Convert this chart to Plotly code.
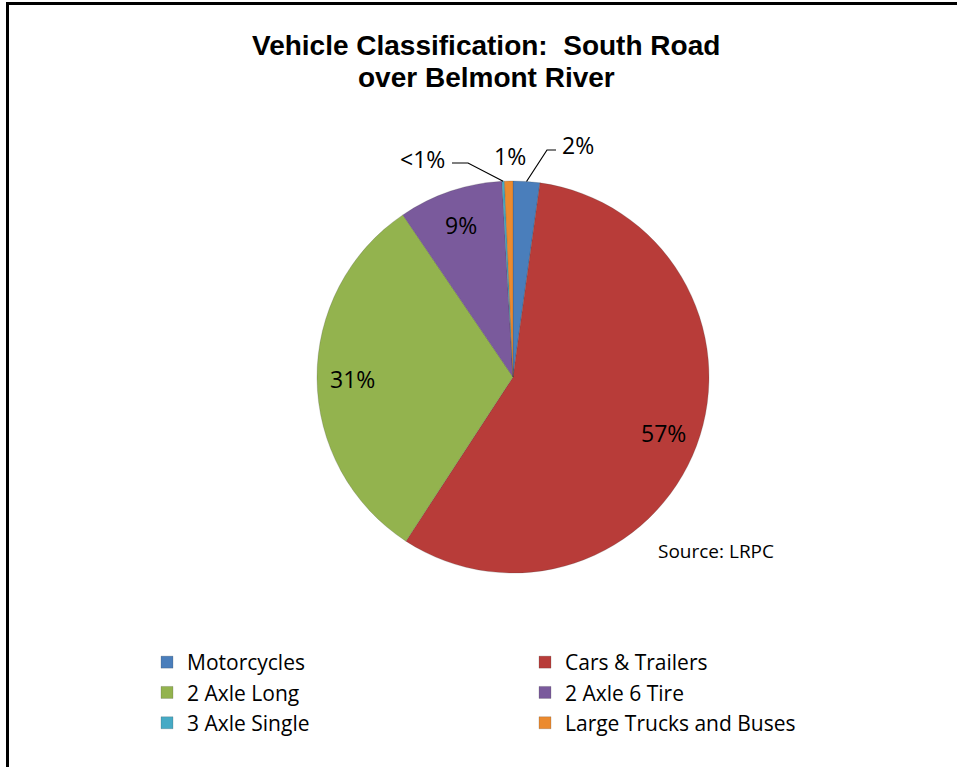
import math
import plotly.graph_objects as go

# Vehicle classification counts on South Road over Belmont River (share of traffic, %)
categories = ["Motorcycles", "Cars & Trailers", "2 Axle Long",
              "2 Axle 6 Tire", "3 Axle Single", "Large Trucks and Buses"]
shares = [2.2, 57.0, 31.3, 8.6, 0.2, 0.7]
colors = ["#4A7EBB", "#B83C39", "#93B34E", "#7A5A9C", "#46AAC5", "#EB8A2E"]
title_lines = ["Vehicle Classification:  South Road", "over Belmont River"]
source_note = "Source: LRPC"

W, H = 957, 767
# pie placement in pixels (centre and radius)
CX, CY, R = 513, 377, 196
LABEL_FONT = "'Open Sans', 'Noto Sans', sans-serif"


def px(x):
    return x / W


def py(y):
    return 1 - y / H


def pct_label(v):
    return "<1%" if v < 0.5 else f"{round(v):.0f}%"


def slice_point(theta_deg, frac):
    t = math.radians(theta_deg)
    return CX + frac * R * math.sin(t), CY - frac * R * math.cos(t)


def text_note(x, y, text, size, xanchor="center", family=LABEL_FONT):
    return dict(x=px(x), y=py(y), xref="paper", yref="paper", text=text,
                showarrow=False, xanchor=xanchor, yanchor="middle",
                font=dict(family=family, size=size, color="#000"))


fig = go.Figure(go.Pie(
    labels=categories,
    values=shares,
    sort=False,
    direction="clockwise",
    rotation=0,
    marker=dict(colors=colors, line=dict(color="rgba(60,60,60,0.35)", width=0.6)),
    textinfo="none",
    hoverinfo="label+percent",
    domain=dict(x=[px(CX - R), px(CX + R)], y=[py(CY + R), py(CY - R)]),
))

annotations = []
shapes = []

# slice mid-angles (degrees clockwise from 12 o'clock)
total = sum(shares)
mids = []
acc = 0.0
for v in shares:
    mids.append((acc + v / 2) / total * 360)
    acc += v

# callouts for the thin slices: leader elbow/end and label centre
callouts = {
    "Motorcycles": dict(elbow=(547, 150), end=(556, 150), text_at=(560, 145), anchor="left"),
    "3 Axle Single": dict(elbow=(468, 163), end=(452, 163), text_at=(447, 159), anchor="right"),
    "Large Trucks and Buses": dict(elbow=None, end=None, text_at=(510, 156), anchor="center"),
}

for name, v, mid in zip(categories, shares, mids):
    text = pct_label(v)
    if v >= 5:
        x, y = slice_point(mid, 0.82)
        annotations.append(text_note(x, y, text, 23))
    else:
        c = callouts[name]
        if c["elbow"] is not None:
            ex, ey = slice_point(mid, 1.0)
            bx, by = c["elbow"]
            tx, ty = c["end"]
            shapes.append(dict(type="path", xref="paper", yref="paper",
                               path=f"M{px(ex)},{py(ey)} L{px(bx)},{py(by)} L{px(tx)},{py(ty)}",
                               line=dict(color="#000", width=1.2)))
        lx, ly = c["text_at"]
        annotations.append(text_note(lx, ly, text, 23, xanchor=c["anchor"]))

# chart title, one annotation per line
title_font = "'Liberation Sans', Arial, sans-serif"
for line, y in zip(title_lines, [45, 78]):
    annotations.append(text_note(486, y, f"<b>{line}</b>", 28, family=title_font))

# source note
annotations.append(text_note(656, 551, source_note, 19, xanchor="left"))

# frame on left and top edges
shapes.append(dict(type="path", xref="paper", yref="paper",
                   path=f"M{px(7.5)},{py(H + 5)} L{px(7.5)},{py(3.5)} L{px(W + 5)},{py(3.5)}",
                   line=dict(color="#000", width=3)))

fig.update_layout(
    width=W, height=H,
    margin=dict(l=0, r=0, t=0, b=0, autoexpand=False),
    paper_bgcolor="white",
    plot_bgcolor="white",
    showlegend=True,
    legend=dict(
        orientation="h",
        x=px(147), y=py(642), xanchor="left", yanchor="top",
        entrywidth=333, entrywidthmode="pixels",
        traceorder="normal",
        font=dict(family=LABEL_FONT, size=21, color="#000"),
        bgcolor="rgba(0,0,0,0)",
    ),
    annotations=annotations,
    shapes=shapes,
)

fig.write_html("out.html")
